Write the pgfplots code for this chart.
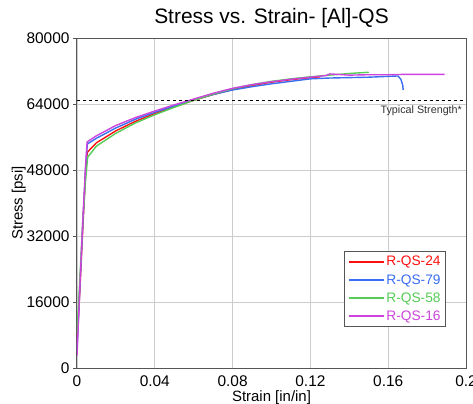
\documentclass[border=0pt]{standalone}
\usepackage{pgfplots}
\pgfplotsset{compat=1.18}
\usepackage{fontspec}
\setmainfont{Liberation Sans}
\definecolor{cRed}{HTML}{FF1010}
\definecolor{cBlue}{HTML}{3A6EF0}
\definecolor{cGreen}{HTML}{55CC55}
\definecolor{cMag}{HTML}{CC44DD}
\definecolor{axgray}{HTML}{555555}
\definecolor{gridgray}{HTML}{CCCCCC}
\begin{document}
\begin{tikzpicture}
\begin{axis}[
  scale only axis,
  width=389bp, height=330bp,
  xmin=0, xmax=0.2, ymin=0, ymax=80000,
  scaled x ticks=false, scaled y ticks=false,
  xtick={0,0.04,0.08,0.12,0.16,0.2},
  xticklabels={0,0.04,0.08,0.12,0.16,0.2},
  ytick={0,16000,32000,48000,64000,80000},
  yticklabels={0,16000,32000,48000,64000,80000},
  grid=major,
  major grid style={gridgray, line width=0.8bp},
  axis line style={axgray, line width=1bp},
  xtick style={draw=none},
  ytick pos=left,
  tick align=outside,
  ytick style={axgray, line width=1bp},
  major tick length=4bp,
  tick label style={font=\fontsize{15.5}{17}\selectfont},
  /pgf/number format/assume math mode=true,
  title={Stress vs. Strain- [Al]-QS},
  title style={font=\fontsize{21}{24}\selectfont, at={(0.5,1)}, anchor=south, yshift=1bp},
  xlabel={Strain [in/in]},
  ylabel={Stress [psi]},
  label style={font=\fontsize{15}{17}\selectfont},
  xlabel style={yshift=3bp},
  ylabel style={yshift=-6bp},
  legend cell align=left,
  legend style={at={(0.9486,0.124)}, anchor=south east, draw=axgray, line width=0.8bp,
    font=\fontsize{13.8}{16}\selectfont, row sep=3bp, inner ysep=3bp, inner xsep=3bp},
  legend image code/.code={\draw[#1, line width=1.5bp] (0bp,0bp) -- (35bp,0bp);},
  every axis plot/.append style={line width=1.4bp},
  clip=true,
]
\addplot[cRed] coordinates {
(0,6000)(0.0015,19000)(0.003,34000)(0.0045,48000)(0.0053,52300)(0.01,54600)(0.02,57500)(0.03,59800)(0.04,61700)(0.05,63300)(0.06,64900)(0.07,66300)(0.08,67500)(0.09,68500)(0.1,69300)(0.11,69900)(0.12,70400)(0.125,70600)};
\addlegendentry{\textcolor{cRed}{R-QS-24}}
\addplot[cBlue] coordinates {
(0,4000)(0.0015,20000)(0.003,35000)(0.0045,49000)(0.0053,54300)(0.01,55700)(0.02,58200)(0.03,60300)(0.04,62000)(0.05,63500)(0.06,65000)(0.07,66300)(0.08,67400)(0.09,68200)(0.1,68900)(0.11,69500)(0.12,70100)(0.13,70300)(0.14,70400)(0.15,70500)(0.16,70700)(0.165,70800)(0.1665,70000)(0.1675,68500)(0.1677,67400)};
\addlegendentry{\textcolor{cBlue}{R-QS-79}}
\addplot[cGreen] coordinates {
(0,8000)(0.0015,22000)(0.003,36000)(0.0045,46000)(0.0055,51100)(0.01,53800)(0.02,56900)(0.03,59400)(0.04,61400)(0.05,63200)(0.06,64900)(0.07,66400)(0.08,67700)(0.09,68700)(0.1,69500)(0.11,70100)(0.12,70600)(0.13,71000)(0.14,71400)(0.15,71700)};
\addlegendentry{\textcolor{cGreen}{R-QS-58}}
\addplot[cMag] coordinates {
(0,3000)(0.0015,20000)(0.003,36000)(0.0045,50000)(0.0052,54800)(0.01,56300)(0.02,58800)(0.03,60700)(0.04,62300)(0.05,63800)(0.06,65200)(0.07,66600)(0.08,67800)(0.09,68700)(0.1,69400)(0.11,70000)(0.12,70500)(0.128,70900)(0.13,71300)(0.14,71000)(0.15,71100)(0.16,71100)(0.17,71200)(0.18,71200)(0.189,71200)};
\addlegendentry{\textcolor{cMag}{R-QS-16}}
\addplot[black, dashed, line width=0.7bp, forget plot] coordinates {(0,65000)(0.2,65000)};
\node[anchor=north east, font=\fontsize{10.8}{12}\selectfont, text=black!80, inner sep=0pt] at (axis cs:0.198,63700) {Typical Strength*};
\end{axis}
\pgfresetboundingbox
\path[use as bounding box] (-77bp,-36bp) rectangle (396bp,368bp);
\end{tikzpicture}
\end{document}
